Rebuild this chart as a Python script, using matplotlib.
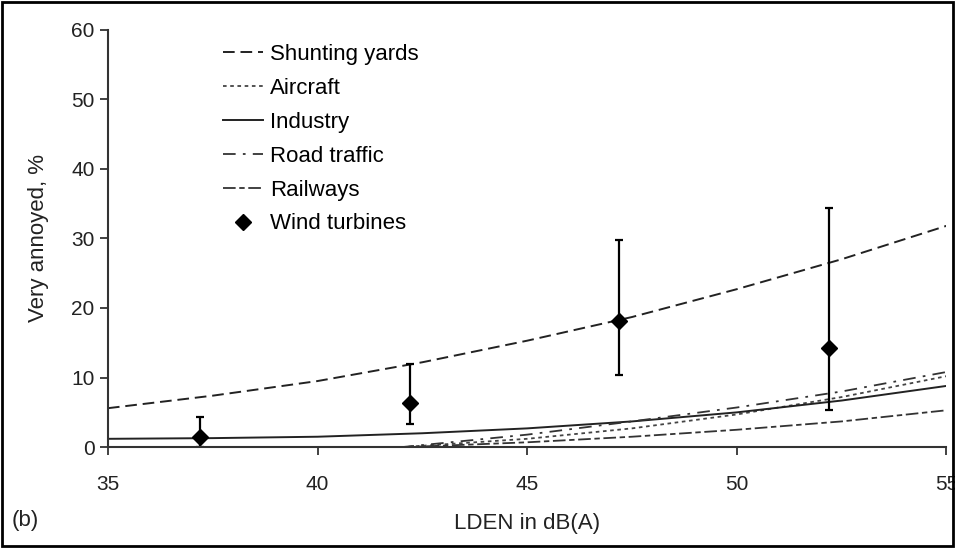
import numpy as np
import matplotlib.pyplot as plt
from matplotlib.patches import Rectangle

plt.rcParams['font.family'] = ['Liberation Sans', 'DejaVu Sans']

# curves (LDEN dB(A) -> very annoyed %)
lden = [35, 37.5, 40, 42.5, 45, 47.5, 50, 52.5, 55]
shunting = [5.6, 7.4, 9.5, 12.2, 15.3, 18.7, 22.7, 27.0, 31.8]
industry = [1.2, 1.3, 1.5, 2.0, 2.7, 3.7, 5.0, 6.7, 8.8]

lden_t = [42, 42.5, 45, 47.5, 50, 52.5, 55]
aircraft = [0.0, 0.2, 1.2, 2.7, 4.7, 7.2, 10.2]
road = [0.0, 0.3, 1.8, 3.7, 5.7, 8.0, 10.8]
rail = [0.0, 0.1, 0.7, 1.5, 2.5, 3.7, 5.3]

# wind turbines
wt_x = [37.2, 42.2, 47.2, 52.2]
wt_y = [1.5, 6.3, 18.2, 14.2]
wt_lo = [0.0, 3.4, 10.4, 5.3]
wt_hi = [4.3, 11.9, 29.8, 34.4]

fig = plt.figure(figsize=(9.55, 5.48), dpi=100)
ax = fig.add_axes([0.113, 0.184, 0.878, 0.762])

ax.plot(lden, shunting, color='#222222', lw=1.4, ls=(0, (6, 3)), label='Shunting yards')
ax.plot(lden_t, aircraft, color='#444444', lw=1.3, ls=(0, (2, 2)), label='Aircraft')
ax.plot(lden, industry, color='#222222', lw=1.4, label='Industry')
ax.plot(lden_t, road, color='#333333', lw=1.3, ls=(0, (7, 4, 1.5, 4)), label='Road traffic')
ax.plot(lden_t, rail, color='#333333', lw=1.3, ls=(0, (7, 2, 3, 2)), label='Railways')

yerr = [np.array(wt_y) - np.array(wt_lo), np.array(wt_hi) - np.array(wt_y)]
ax.errorbar(wt_x, wt_y, yerr=yerr, fmt='none', ecolor='black', elinewidth=1.6,
            capsize=3, capthick=1.6)
ax.plot(wt_x, wt_y, 'D', color='black', ms=8, ls='none', label='Wind turbines')

ax.set_xlim(35, 55)
ax.set_ylim(0, 60)
ax.set_xticks([35, 40, 45, 50, 55])
ax.set_yticks([0, 10, 20, 30, 40, 50, 60])
for s in ['top', 'right']:
    ax.spines[s].set_visible(False)
for s in ['left', 'bottom']:
    ax.spines[s].set_color('#333333')
    ax.spines[s].set_linewidth(1.5)
ax.tick_params(direction='out', length=6, width=1.3, labelsize=15, colors='#333333',
               labelcolor='#222222')
ax.tick_params(axis='x', pad=14)
ax.set_ylabel('Very annoyed, %', fontsize=16, color='#222222', labelpad=16)
ax.set_xlabel('LDEN in dB(A)', fontsize=16, color='#222222', labelpad=14)
fig.text(0.012, 0.04, '(b)', fontsize=16, color='#222222')

ax.legend(loc='upper left', bbox_to_anchor=(0.12, 1.0), frameon=False, fontsize=16,
          handlelength=1.8, handletextpad=0.3, labelspacing=0.58, numpoints=1,
          borderaxespad=0.25)

fig.patches.append(Rectangle((0.002, 0.003), 0.996, 0.994, transform=fig.transFigure,
                             fill=False, edgecolor='black', lw=2))

fig.savefig('out.png', dpi=100)
